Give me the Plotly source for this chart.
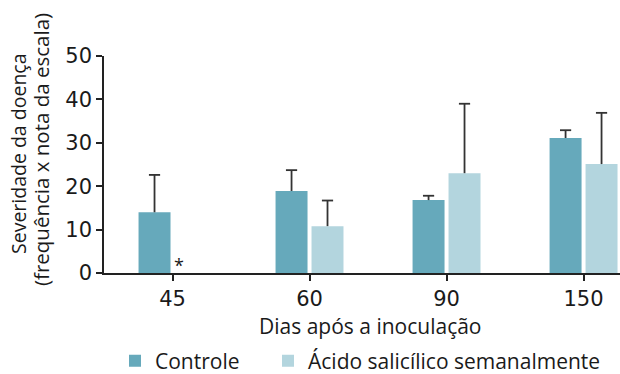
import plotly.graph_objects as go

dias = ["45", "60", "90", "150"]
controle = [14.0, 18.9, 16.8, 31.1]
controle_err = [8.6, 4.8, 1.0, 1.8]
acido = [None, 10.8, 23.0, 25.1]
acido_err = [None, 5.9, 16.0, 11.8]

FONT = "Open Sans"
L, T, B = 104, 56, 101
W, H = 620, 374
PW, PH = W - L, H - T - B
ERR_COLOR = "#333333"


def px(x):
    return (x - L) / PW


def py(y):
    return (H - B - y) / PH


def tops(vals, errs):
    return [None if v is None else v + e for v, e in zip(vals, errs)]


fig = go.Figure()
series = [
    ("Controle", controle, controle_err, "#66a9bb", "legend", "c"),
    ("Ácido salicílico semanalmente", acido, acido_err, "#b3d5de", "legend2", "a"),
]
for name, vals, errs, color, leg, grp in series:
    fig.add_trace(go.Bar(x=dias, y=vals, name=name, marker_color=color, legend=leg,
                         offsetgroup=grp, marker_line_width=0))
for name, vals, errs, color, leg, grp in series:
    fig.add_trace(go.Scatter(
        x=dias, y=tops(vals, errs), mode="markers", showlegend=False, offsetgroup=grp,
        marker=dict(symbol="line-ew", size=8, color=ERR_COLOR,
                    line=dict(width=1.8, color=ERR_COLOR)),
        error_y=dict(type="data", symmetric=False, array=[0] * len(errs),
                     arrayminus=[0 if e is None else e for e in errs],
                     color=ERR_COLOR, thickness=1.8, width=0),
        hoverinfo="skip",
    ))

fig.update_layout(
    width=W, height=H,
    margin=dict(l=L, r=0, t=T, b=B, autoexpand=False),
    paper_bgcolor="white", plot_bgcolor="white",
    barmode="group", bargap=0.475, bargroupgap=0.111,
    scattermode="group", scattergap=0.475,
    font=dict(family=FONT, color="#1a1a1a", size=21),
    showlegend=True,
    legend=dict(orientation="h", x=px(115), xanchor="left", y=py(361), yanchor="middle",
                font=dict(size=21)),
    legend2=dict(orientation="h", x=px(268), xanchor="left", y=py(361), yanchor="middle",
                 font=dict(size=21)),
    xaxis=dict(range=[-0.5, 3.266], showline=True, linecolor="#222222", linewidth=1.5,
               ticks="outside", ticklen=6, tickcolor="#222222", tickwidth=1.5,
               tickfont=dict(size=21, family="DejaVu Sans"), showgrid=False),
    yaxis=dict(range=[0, 50], tickvals=[0, 10, 20, 30, 40, 50], showline=True,
               linecolor="#222222", linewidth=1.5, ticks="outside", ticklen=6,
               tickcolor="#222222", tickwidth=1.5, tickfont=dict(size=21, family="DejaVu Sans"),
               showgrid=False, zeroline=False),
)

fig.add_annotation(x=0.05, y=1.8, xref="x", yref="y", text="*", showarrow=False,
                   font=dict(size=18))
fig.add_annotation(x=px(370), y=py(326), xref="paper", yref="paper",
                   text="Dias após a inoculação", showarrow=False,
                   xanchor="center", yanchor="middle", font=dict(size=21))
fig.add_annotation(x=px(18), y=py(154), xref="paper", yref="paper",
                   text="Severidade da doença", showarrow=False, textangle=-90,
                   xanchor="center", yanchor="middle", font=dict(size=19.5))
fig.add_annotation(x=px(41), y=py(150), xref="paper", yref="paper",
                   text="(frequência x nota da escala)", showarrow=False, textangle=-90,
                   xanchor="center", yanchor="middle", font=dict(size=20.5))

fig.write_html("out.html", config={"displayModeBar": False},
               post_script="document.body.style.margin='0px';document.body.style.overflow='hidden';")
